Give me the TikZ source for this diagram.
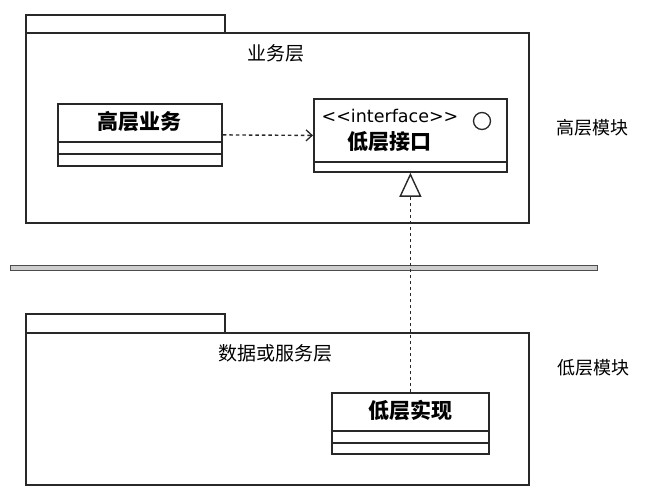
\documentclass[tikz,border=0pt]{standalone}
\usepackage{fontspec}
\setmainfont{DejaVu Sans}
\newfontfamily\cjk{Noto Sans CJK SC}
\usetikzlibrary{arrows.meta, calc}
\definecolor{cline}{RGB}{40,40,40}
\definecolor{cbar}{RGB}{205,205,205}
\tikzset{
  pkgtab/.style={   % package tab
    draw=cline, line width=1.6pt, anchor=north west,
    minimum width=199pt, inner sep=0pt
  },
  pkgbody/.style={  % package body
    draw=cline, line width=1.6pt, anchor=north west,
    minimum width=503pt, inner sep=0pt
  },
  pkglabel/.style={ % package name
    font=\cjk\fontsize{19}{22}\selectfont, inner sep=0pt
  },
  modlabel/.style={ % module note at the right
    font=\cjk\fontsize{18}{21}\selectfont, inner sep=0pt
  },
  cls/.style={      % class box
    draw=cline, line width=1.8pt, fill=white, anchor=north west,
    inner sep=0pt
  },
  clsname/.style={  % class name
    font=\cjk\bfseries\fontsize{21}{24}\selectfont, inner sep=0pt
  },
  clsline/.style={draw=cline, line width=1.8pt},
  sepbar/.style={   % layer separator
    draw=black!70, fill=cbar, line width=1.4pt, anchor=north west,
    minimum width=587pt, minimum height=5pt, inner sep=0pt
  },
  deparr/.style={-{Straight Barb[length=6pt, width=11pt, line width=1.3pt]},
    line width=1.4pt, color=cline, dash pattern=on 3.5pt off 3pt},
  realarr/.style={-{Triangle[open, length=24pt, width=22pt, line width=1.4pt]},
    line width=1.4pt, color=cline, dash pattern=on 3.5pt off 2.5pt},
}

\begin{document}
\begin{tikzpicture}[x=1pt, y=-1pt]
\useasboundingbox (0,0) rectangle (653,493);

%% --- upper package -------------------------------------------------------
\node[pkgtab,  minimum height=18pt]  (tabhi) at (25,14) {};
\node[pkgbody, minimum height=190pt] (pkghi) at (25,32) {};
\node[pkglabel] (lblhi) at (276,53) {业务层};

% high level service class
\node[cls, minimum width=164pt, minimum height=62pt] (hisvc) at (57,103) {};
\node[clsname] (hisvcname) at ($(hisvc.north)+(0,18.5)$) {高层业务};
\draw[clsline] ($(hisvc.south west)+(0,-25)$) -- ($(hisvc.south east)+(0,-25)$);
\draw[clsline] ($(hisvc.south west)+(0,-13)$) -- ($(hisvc.south east)+(0,-13)$);

% interface class
\node[cls, minimum width=193pt, minimum height=73pt] (iface) at (313,98) {};
\node[font=\fontsize{17.5}{20}\selectfont, inner sep=0pt] (stereo) at (390,116)
  {{<}{<}interface{>}{>}};
\node[circle, draw=cline, line width=1.3pt, minimum size=17pt, inner sep=0pt] (lolli) at (482,121) {};
\node[clsname] (ifacename) at (389,142) {低层接口};
\draw[clsline] ($(iface.south west)+(0,-11)$) -- ($(iface.south east)+(0,-11)$);

\draw[deparr] (hisvc.east) -- (iface.west);

\node[modlabel] (modhi) at (592,128) {高层模块};

%% --- separator -----------------------------------------------------------
\node[sepbar] (sep) at (10,265) {};

%% --- lower package -------------------------------------------------------
\node[pkgtab,  minimum height=19pt]  (tablo) at (25,313) {};
\node[pkgbody, minimum height=152pt] (pkglo) at (25,332) {};
\node[pkglabel] (lbllo) at (275,353) {数据或服务层};

% low level implementation class
\node[cls, minimum width=157pt, minimum height=61pt] (loimpl) at (331,392) {};
\node[clsname] (loimplname) at ($(loimpl.north)+(0,18.5)$) {低层实现};
\draw[clsline] ($(loimpl.south west)+(0,-24)$) -- ($(loimpl.south east)+(0,-24)$);
\draw[clsline] ($(loimpl.south west)+(0,-12)$) -- ($(loimpl.south east)+(0,-12)$);

\draw[realarr] (loimpl.north) -- (iface.south);

\node[modlabel] (modlo) at (593,368) {低层模块};

\end{tikzpicture}
\end{document}
